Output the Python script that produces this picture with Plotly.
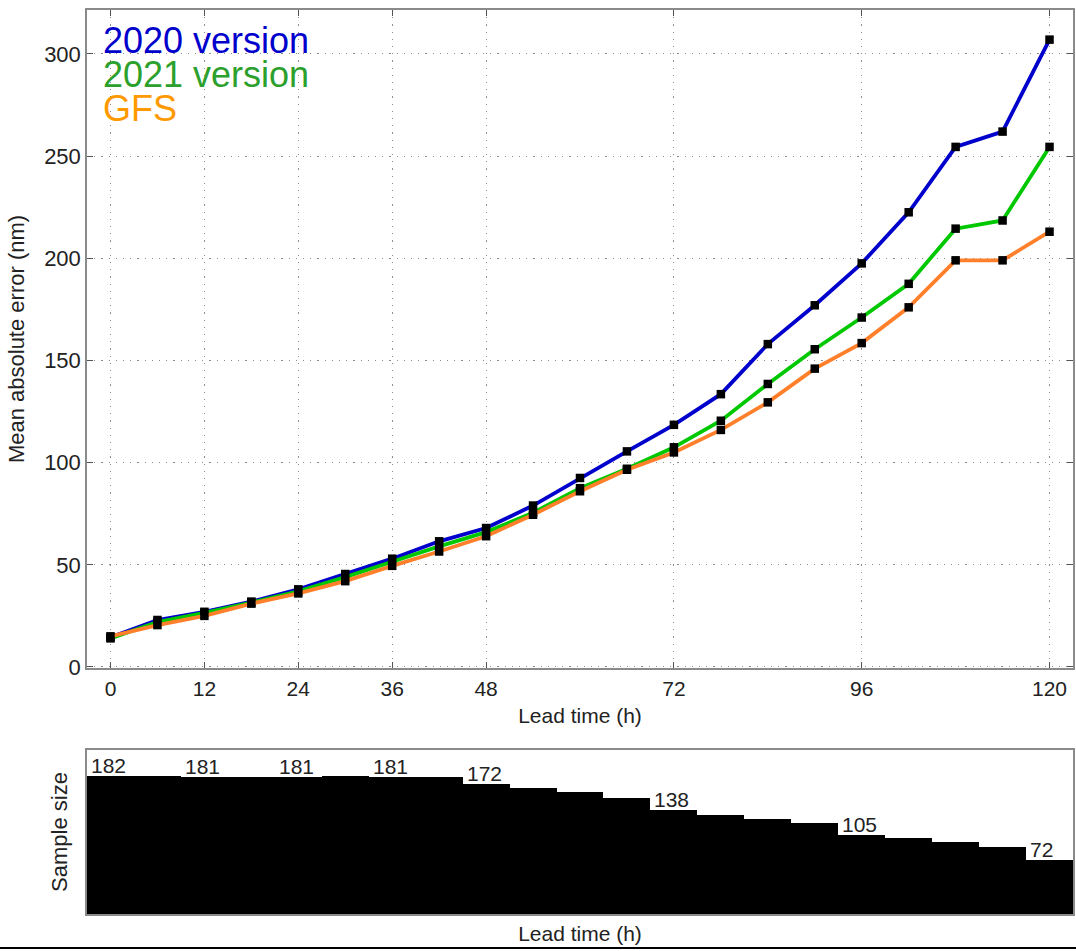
import plotly.graph_objects as go

# ---- data ----
lead_time = [0, 6, 12, 18, 24, 30, 36, 42, 48, 54, 60, 66, 72, 78, 84, 90, 96, 102, 108, 114, 120]
v2020 = [14.5, 23, 27, 32, 38, 45.5, 53, 61.5, 68, 79, 92.5, 105.5, 118.5, 133.5, 158, 177, 197.5, 222.5, 254.5, 262, 307]
v2021 = [14, 22, 26.5, 31.5, 37, 44, 51.5, 59, 66, 75.5, 87.5, 97, 107.5, 120.5, 138.5, 155.5, 171, 187.5, 214.5, 218.5, 254.5]
gfs = [15, 20.5, 25, 31, 36, 42, 49.5, 56.5, 64, 74.5, 86, 96.5, 105, 116, 129.5, 146, 158.5, 176, 199, 199, 213]
sample_size = [182, 182, 181, 181, 181, 182, 181, 181, 172, 167, 161, 154, 138, 131, 126, 121, 105, 100, 95, 88, 72]
x_ticks = [0, 12, 24, 36, 48, 72, 96, 120]
y_ticks = [0, 50, 100, 150, 200, 250, 300]
labelled_times = [0, 12, 24, 36, 48, 72, 96, 120]

series = [
    ("2020 version", v2020, "#0000CC", "#0000CC"),
    ("2021 version", v2021, "#00C800", "#2CA02C"),
    ("GFS", gfs, "#FF7F2A", "#FF9900"),
]

W, H = 1076, 951
ML, MR, MT, MB = 87, 3, 10, 37
PW, PH = W - ML - MR, H - MT - MB


def py(pix):
    """pixel y (from top) -> paper fraction"""
    return (H - MB - pix) / PH


def px(pix):
    return (pix - ML) / PW


fig = go.Figure()

for name, vals, lc, tc in series:
    fig.add_trace(go.Scatter(
        x=lead_time, y=vals, mode="lines+markers", name=name,
        line=dict(color=lc, width=3.8),
        marker=dict(symbol="square", size=8.5, color="black"),
        xaxis="x", yaxis="y", showlegend=False,
    ))

fig.add_trace(go.Bar(
    x=lead_time, y=sample_size, width=6,
    marker=dict(color="black", line=dict(width=0)),
    xaxis="x2", yaxis="y2", showlegend=False,
))

font_main = "Liberation Sans, Arial, sans-serif"
axis_col = "#8a8a8a"
grid_col = "#8c8c8c"
grid_dash = "1.2px,6px"

fig.update_layout(
    width=W, height=H,
    margin=dict(l=ML, r=MR, t=MT, b=MB, autoexpand=False),
    paper_bgcolor="white", plot_bgcolor="white",
    bargap=0,
    font=dict(family=font_main, color="#333333"),
    xaxis=dict(
        domain=[0, 1], anchor="y", range=[-3, 123],
        tickvals=x_ticks, ticktext=[str(t) for t in x_ticks],
        ticks="inside", ticklen=6, tickcolor="#555555", tickwidth=1,
        showline=True, linecolor=axis_col, linewidth=1.5, mirror="ticks",
        showgrid=True, gridcolor=grid_col, griddash=grid_dash, gridwidth=1.2,
        zeroline=False,
        tickfont=dict(size=21, color="#222222"),
        ticklabelstandoff=1,
        title=dict(text="Lead time (h)", font=dict(size=21, color="#222222"), standoff=9),
    ),
    yaxis=dict(
        domain=[py(668), 1], anchor="x", range=[-0.5, 321.5],
        tickvals=y_ticks,
        ticks="inside", ticklen=6, tickcolor="#555555", tickwidth=1,
        showline=True, linecolor=axis_col, linewidth=1.5, mirror="ticks",
        showgrid=True, gridcolor=grid_col, griddash=grid_dash, gridwidth=1.2,
        zeroline=False,
        tickfont=dict(size=22, color="#222222"),
        title=dict(text="Mean absolute error (nm)", font=dict(size=22, color="#222222"), standoff=13),
    ),
    xaxis2=dict(
        domain=[0, 1], anchor="y2", range=[-3, 123],
        showticklabels=False, ticks="",
        showline=True, linecolor=axis_col, linewidth=1.5, mirror=True,
        showgrid=False, zeroline=False,
        title=dict(text="Lead time (h)", font=dict(size=21, color="#222222"), standoff=12),
    ),
    yaxis2=dict(
        domain=[0, py(750)], anchor="x2", range=[0, 217],
        showticklabels=False, ticks="",
        showline=True, linecolor=axis_col, linewidth=1.5, mirror=True,
        showgrid=False, zeroline=False,
        title=dict(text="Sample size", font=dict(size=22, color="#222222"), standoff=12),
    ),
)

# legend as coloured text (one text block, tight line spacing like the reference)
legend_lines = [
    "<span style='font-size:36px;color:%s'>%s</span>" % (tc, name)
    for name, vals, lc, tc in series
]
fig.add_annotation(
    x=px(101), y=py(18), xref="paper", yref="paper",
    xanchor="left", yanchor="top", showarrow=False, align="left",
    text="<br>".join(legend_lines),
    font=dict(size=26, family=font_main),
)

# sample size labels
for t in labelled_times:
    i = lead_time.index(t)
    fig.add_annotation(
        x=t - 3, y=sample_size[i], xref="x2", yref="y2",
        xanchor="left", yanchor="bottom", showarrow=False,
        xshift=2, yshift=-3,
        text=str(sample_size[i]), font=dict(size=21, color="#222222", family=font_main),
    )

# thin black line at the bottom of the image
fig.add_shape(
    type="line", xref="paper", yref="paper",
    x0=px(0), x1=px(W), y0=py(948), y1=py(948),
    line=dict(color="black", width=2),
)

fig.write_html("out.html")
